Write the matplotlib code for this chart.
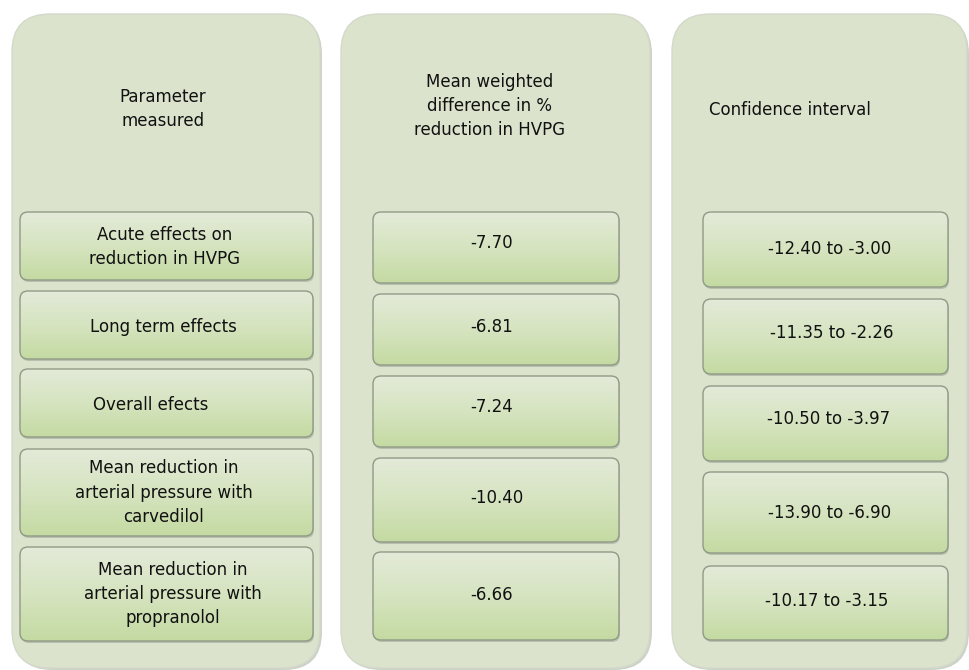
import numpy as np
import matplotlib
matplotlib.use("Agg")
import matplotlib.pyplot as plt
from matplotlib.patches import FancyBboxPatch
from matplotlib.colors import LinearSegmentedColormap

# Contenido de la tabla
encabezados = ["Parameter\nmeasured",
               "Mean weighted\ndifference in %\nreduction in HVPG",
               "Confidence interval"]
parametros = ["Acute effects on\nreduction in HVPG",
              "Long term effects",
              "Overall efects",
              "Mean reduction in\narterial pressure with\ncarvedilol",
              "Mean reduction in\narterial pressure with\npropranolol"]
diferencias = ["-7.70", "-6.81", "-7.24", "-10.40", "-6.66"]
intervalos = ["-12.40 to -3.00", "-11.35 to -2.26", "-10.50 to -3.97",
              "-13.90 to -6.90", "-10.17 to -3.15"]

# Disposicion (en pixeles)
paneles_x = [(12, 320), (341, 650), (672, 967)]
panel_y = (14, 668)
cajas_x = [(20, 313), (373, 619), (703, 948)]
cajas_y = [
    [(212, 280), (291, 359), (369, 437), (449, 536), (547, 641)],
    [(212, 283), (294, 365), (376, 447), (458, 542), (552, 640)],
    [(212, 287), (299, 374), (386, 461), (472, 553), (566, 640)],
]
texto_x = [[165, 163, 151, 164, 173],
           [492, 492, 492, 497, 492],
           [830, 832, 829, 830, 827]]
texto_dy = [[1, 2, 2, 0, 0],
            [-4, -3, -5, -2, -1],
            [0, -4, -4, 0, -2]]
encabezado_pos = [(163, 109, "center"), (490, 106, "center"), (709, 110, "left")]

fig = plt.figure(figsize=(9.69, 6.70), dpi=100)
ax = fig.add_axes([0, 0, 1, 1])
ax.set_xlim(0, 969)
ax.set_ylim(670, 0)
ax.axis("off")

grad = LinearSegmentedColormap.from_list("g", ["#e3ead8", "#d6e4c0", "#c4daa2"])
g = np.linspace(0, 1, 100).reshape(-1, 1)

for i, (x0, x1) in enumerate(paneles_x):
    sombra = FancyBboxPatch((x0 + 2, panel_y[0] + 2), x1 - x0, panel_y[1] - panel_y[0],
                            boxstyle="round,pad=0,rounding_size=38",
                            fc="#cdd2c7", ec="none", zorder=1)
    ax.add_patch(sombra)
    p = FancyBboxPatch((x0, panel_y[0]), x1 - x0, panel_y[1] - panel_y[0],
                       boxstyle="round,pad=0,rounding_size=38",
                       fc="#dbe3cd", ec="#d3d9cb", lw=1, zorder=2)
    ax.add_patch(p)

columnas = [parametros, diferencias, intervalos]
for c, textos in enumerate(columnas):
    bx0, bx1 = cajas_x[c]
    for r, txt in enumerate(textos):
        y0, y1 = cajas_y[c][r]
        sh = FancyBboxPatch((bx0 + 1, y0 + 2), bx1 - bx0, y1 - y0,
                            boxstyle="round,pad=0,rounding_size=8",
                            fc="#b7bfae", ec="none", zorder=3)
        ax.add_patch(sh)
        b = FancyBboxPatch((bx0, y0), bx1 - bx0, y1 - y0,
                           boxstyle="round,pad=0,rounding_size=8",
                           fc="none", ec="#8f9a86", lw=1.0, zorder=5)
        ax.add_patch(b)
        im = ax.imshow(g, cmap=grad, extent=(bx0, bx1, y1, y0), aspect="auto",
                       zorder=4, interpolation="bicubic")
        im.set_clip_path(b)
        yc = (y0 + y1) / 2 + texto_dy[c][r]
        ax.text(texto_x[c][r], yc, txt, ha="center", va="center",
                fontsize=12, color="#111111", linespacing=1.45,
                family="DejaVu Sans", zorder=6)

for (hx, hy, ha), txt in zip(encabezado_pos, encabezados):
    ax.text(hx, hy, txt, ha=ha, va="center", multialignment="center",
            fontsize=12, color="#111111", linespacing=1.45,
            family="DejaVu Sans", zorder=6)

ax.set_xlim(0, 969)
ax.set_ylim(670, 0)
fig.savefig("out.png", dpi=100)
